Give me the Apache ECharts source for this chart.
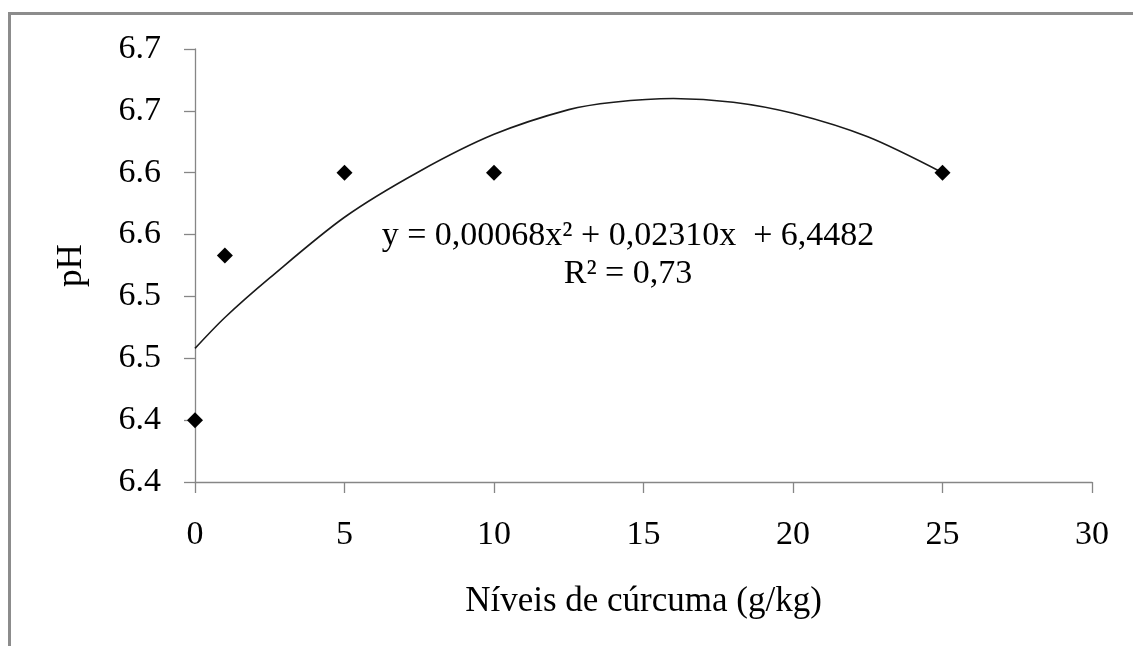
<!DOCTYPE html>
<html lang="pt">
<head>
    <meta charset="utf-8">
    <title>pH x Níveis de cúrcuma</title>
    <style>
        html, body { margin: 0; padding: 0; background: #fff; }
    </style>
</head>
<body>
    <div id="main" style="width:1133px;height:646px;"></div>

    <script src="https://cdn.jsdelivr.net/npm/echarts@6/dist/echarts.min.js"></script>
    <script type="text/javascript">

        // observed points
        var levels = [0, 1, 5, 10, 25];
        var phValues = [6.40, 6.533, 6.60, 6.60, 6.60];

        // trendline
        var trendX = [0, 1, 2.5, 5, 7.5, 10, 12.5, 14, 16, 18, 20, 22.5, 25];
        var trendY = [6.458, 6.483, 6.515, 6.564, 6.601, 6.631, 6.651, 6.657, 6.660, 6.657, 6.648, 6.629, 6.600];

        // y tick labels as printed (one decimal)
        var yTickLabels = ['6.4', '6.4', '6.5', '6.5', '6.6', '6.6', '6.7', '6.7'];

        var equationText = 'y = 0,00068x\u00b2 + 0,02310x  + 6,4482';
        var r2Text = 'R\u00b2 = 0,73';

        var serif = '"Liberation Serif", "DejaVu Serif", serif';

        var myChart = echarts.init(document.getElementById('main'));

        var points = levels.map(function (x, i) { return [x, phValues[i]]; });
        var trend = trendX.map(function (x, i) { return [x, trendY[i]]; });

        var option = {
            backgroundColor: '#fff',
            animation: false,
            grid: {
                left: 195,
                right: 41,
                top: 49,
                bottom: 164
            },
            xAxis: {
                type: 'value',
                min: 0,
                max: 30,
                interval: 5,
                name: 'Níveis de cúrcuma (g/kg)',
                nameLocation: 'middle',
                nameGap: 102,
                nameTextStyle: { color: '#000', fontFamily: serif, fontSize: 35 },
                axisLine: { show: true, lineStyle: { color: '#868686', width: 1.3 } },
                axisTick: { show: true, length: 11, lineStyle: { color: '#868686', width: 1.3 } },
                axisLabel: { color: '#000', fontFamily: serif, fontSize: 34, margin: 36 },
                splitLine: { show: false }
            },
            yAxis: {
                type: 'value',
                min: 6.35,
                max: 6.70,
                interval: 0.05,
                name: 'pH',
                nameLocation: 'middle',
                nameRotate: 90,
                nameGap: 106,
                nameTextStyle: { color: '#000', fontFamily: serif, fontSize: 35 },
                axisLine: { show: true, lineStyle: { color: '#868686', width: 1.3 } },
                axisTick: { show: true, length: 11, lineStyle: { color: '#868686', width: 1.3 } },
                axisLabel: {
                    color: '#000',
                    fontFamily: serif,
                    fontSize: 34,
                    margin: 34,
                    formatter: function (v, i) { return yTickLabels[i]; }
                },
                splitLine: { show: false }
            },
            series: [{
                name: 'tendência',
                type: 'line',
                data: trend,
                smooth: 0.3,
                symbol: 'none',
                lineStyle: { color: '#1a1a1a', width: 1.6 },
                z: 2
            }, {
                name: 'pH',
                type: 'scatter',
                data: points,
                symbol: 'diamond',
                symbolSize: [16, 16],
                itemStyle: { color: '#000', opacity: 1, borderColor: '#000', borderWidth: 0 },
                z: 3
            }],
            graphic: [{
                type: 'line',
                shape: { x1: 8, y1: 13.5, x2: 1133, y2: 13.5 },
                style: { stroke: '#8c8c8c', lineWidth: 3 }
            }, {
                type: 'line',
                shape: { x1: 9.5, y1: 12, x2: 9.5, y2: 646 },
                style: { stroke: '#8c8c8c', lineWidth: 3 }
            }, {
                type: 'text',
                x: 628,
                y: 236,
                style: {
                    text: equationText,
                    align: 'center',
                    verticalAlign: 'middle',
                    fill: '#000',
                    font: '34px ' + serif
                }
            }, {
                type: 'text',
                x: 628,
                y: 274,
                style: {
                    text: r2Text,
                    align: 'center',
                    verticalAlign: 'middle',
                    fill: '#000',
                    font: '34px ' + serif
                }
            }]
        };
        myChart.setOption(option);
    </script>
</body>
</html>
